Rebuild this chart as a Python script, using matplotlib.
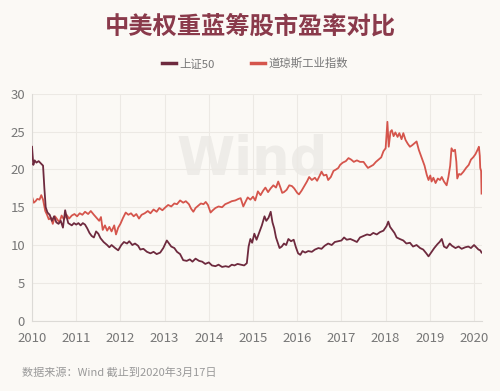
import matplotlib
matplotlib.use("Agg")
import matplotlib.pyplot as plt

plt.rcParams['font.family'] = ['Noto Sans CJK SC', 'DejaVu Sans']

# ---------- 数据（按年份小数表示日期） ----------
sz50_dates = [
    2010.00, 2010.03, 2010.06, 2010.10, 2010.15, 2010.20, 2010.25, 2010.28, 2010.31, 2010.35,
    2010.40, 2010.45, 2010.50, 2010.55, 2010.60, 2010.65, 2010.70, 2010.75, 2010.78, 2010.82,
    2010.90, 2010.95, 2011.00, 2011.05, 2011.10, 2011.15, 2011.20, 2011.25, 2011.30, 2011.35,
    2011.40, 2011.45, 2011.50, 2011.55, 2011.62, 2011.70, 2011.75, 2011.80, 2011.88, 2011.95,
    2012.02, 2012.08, 2012.15, 2012.20, 2012.27, 2012.33, 2012.40, 2012.45, 2012.52, 2012.60,
    2012.68, 2012.75, 2012.82, 2012.90, 2012.97, 2013.05, 2013.10, 2013.15, 2013.22, 2013.28,
    2013.35, 2013.42, 2013.50, 2013.57, 2013.63, 2013.70, 2013.78, 2013.85, 2013.92, 2014.00,
    2014.07, 2014.15, 2014.22, 2014.30, 2014.38, 2014.45, 2014.52, 2014.58, 2014.65, 2014.72,
    2014.80, 2014.86, 2014.90, 2014.94, 2014.98, 2015.03, 2015.08, 2015.15, 2015.20, 2015.26,
    2015.30, 2015.35, 2015.40, 2015.44, 2015.48, 2015.52, 2015.56, 2015.60, 2015.65, 2015.70,
    2015.75, 2015.80, 2015.86, 2015.92, 2015.97, 2016.02, 2016.07, 2016.12, 2016.18, 2016.25,
    2016.33, 2016.40, 2016.48, 2016.55, 2016.62, 2016.70, 2016.78, 2016.85, 2016.92, 2017.00,
    2017.06, 2017.12, 2017.20, 2017.28, 2017.35, 2017.42, 2017.50, 2017.58, 2017.65, 2017.72,
    2017.80, 2017.87, 2017.95, 2018.02, 2018.06, 2018.10, 2018.15, 2018.20, 2018.25, 2018.32,
    2018.40, 2018.47, 2018.55, 2018.62, 2018.70, 2018.78, 2018.85, 2018.92, 2018.97, 2019.03,
    2019.10, 2019.17, 2019.22, 2019.27, 2019.32, 2019.38, 2019.45, 2019.50, 2019.58, 2019.65,
    2019.72, 2019.80, 2019.87, 2019.93, 2020.00, 2020.05, 2020.10, 2020.14, 2020.17,
]
sz50_pe = [
    23.0, 20.6, 21.2, 20.9, 21.1, 20.8, 20.5, 17.5, 15.0, 14.3,
    14.0, 13.2, 13.8, 13.0, 12.8, 13.2, 12.3, 14.6, 13.8, 12.9,
    12.6, 12.9, 12.7, 12.9, 12.6, 12.9, 12.7, 12.2, 11.6, 11.2,
    11.0, 11.8, 11.5, 10.9, 10.4, 10.0, 9.7, 10.0, 9.6, 9.3,
    10.0, 10.4, 10.2, 10.5, 10.0, 10.2, 9.9, 9.4, 9.5, 9.1,
    8.9, 9.1, 8.8, 9.0, 9.6, 10.6, 10.2, 9.8, 9.6, 9.1,
    8.8, 8.0, 7.9, 8.1, 7.8, 8.2, 7.9, 7.8, 7.5, 7.7,
    7.3, 7.2, 7.4, 7.1, 7.2, 7.1, 7.4, 7.3, 7.5, 7.4,
    7.3, 7.6, 9.8, 10.8, 10.3, 11.5, 10.7, 11.8, 12.6, 13.8,
    13.2, 13.6, 14.4, 13.0, 12.2, 11.0, 10.3, 9.6, 9.8, 10.2,
    10.0, 10.8, 10.5, 10.7, 9.7, 8.9, 8.7, 9.2, 9.0, 9.2,
    9.1, 9.4, 9.6, 9.5, 9.9, 10.2, 10.0, 10.4, 10.5, 10.6,
    11.0, 10.7, 10.8, 10.6, 10.4, 11.0, 11.2, 11.4, 11.3, 11.6,
    11.4, 11.7, 11.9, 12.5, 13.1, 12.4, 12.0, 11.6, 11.0, 10.8,
    10.6, 10.2, 10.3, 9.8, 10.0, 9.6, 9.4, 8.9, 8.5, 9.0,
    9.6, 10.1, 10.4, 10.8, 9.8, 9.6, 10.2, 9.9, 9.6, 9.8,
    9.5, 9.7, 9.8, 9.6, 10.0, 9.7, 9.4, 9.3, 9.0,
]

dow_dates = [
    2010.00, 2010.04, 2010.08, 2010.12, 2010.17, 2010.21, 2010.25, 2010.30, 2010.34, 2010.38,
    2010.43, 2010.47, 2010.52, 2010.57, 2010.62, 2010.67, 2010.72, 2010.78, 2010.84, 2010.90,
    2010.96, 2011.02, 2011.08, 2011.14, 2011.20, 2011.27, 2011.33, 2011.40, 2011.46, 2011.52,
    2011.56, 2011.60, 2011.65, 2011.70, 2011.75, 2011.80, 2011.86, 2011.90, 2011.95, 2012.00,
    2012.06, 2012.12, 2012.18, 2012.24, 2012.30, 2012.36, 2012.42, 2012.48, 2012.55, 2012.62,
    2012.68, 2012.75, 2012.82, 2012.88, 2012.95, 2013.02, 2013.08, 2013.15, 2013.22, 2013.28,
    2013.35, 2013.42, 2013.48, 2013.55, 2013.60, 2013.65, 2013.70, 2013.76, 2013.82, 2013.88,
    2013.93, 2013.98, 2014.04, 2014.09, 2014.15, 2014.22, 2014.30, 2014.37, 2014.45, 2014.52,
    2014.60, 2014.67, 2014.72, 2014.78, 2014.82, 2014.88, 2014.94, 2015.00, 2015.05, 2015.11,
    2015.17, 2015.23, 2015.28, 2015.34, 2015.40, 2015.46, 2015.52, 2015.57, 2015.62, 2015.66,
    2015.70, 2015.76, 2015.82, 2015.88, 2015.93, 2016.00, 2016.04, 2016.10, 2016.16, 2016.22,
    2016.27, 2016.33, 2016.40, 2016.45, 2016.51, 2016.55, 2016.60, 2016.66, 2016.70, 2016.76,
    2016.82, 2016.88, 2016.93, 2016.97, 2017.03, 2017.10, 2017.16, 2017.22, 2017.28, 2017.35,
    2017.42, 2017.50, 2017.56, 2017.60, 2017.66, 2017.72, 2017.78, 2017.84, 2017.90, 2017.95,
    2018.00, 2018.04, 2018.07, 2018.11, 2018.14, 2018.18, 2018.22, 2018.27, 2018.31, 2018.36,
    2018.40, 2018.45, 2018.50, 2018.55, 2018.60, 2018.66, 2018.70, 2018.75, 2018.80, 2018.85,
    2018.88, 2018.93, 2018.97, 2019.01, 2019.04, 2019.08, 2019.13, 2019.18, 2019.23, 2019.27,
    2019.32, 2019.38, 2019.42, 2019.46, 2019.49, 2019.53, 2019.57, 2019.60, 2019.62, 2019.66,
    2019.70, 2019.76, 2019.82, 2019.88, 2019.93, 2019.98, 2020.03, 2020.08, 2020.11, 2020.13,
    2020.14, 2020.16, 2020.17,
]
dow_pe = [
    16.4, 15.6, 15.8, 16.1, 16.0, 16.6, 16.0, 14.5, 14.0, 13.4,
    13.6, 12.8, 13.8, 13.4, 13.0, 13.9, 13.4, 14.0, 13.5, 13.9,
    14.1, 13.8, 14.2, 14.0, 14.4, 14.1, 14.5, 14.0, 13.6, 13.2,
    13.7, 12.0, 12.6, 11.9, 12.4, 11.8, 12.6, 11.4, 12.3, 12.8,
    13.6, 14.3, 14.0, 14.2, 13.8, 14.1, 13.5, 14.0, 14.2, 14.5,
    14.2, 14.7, 14.4, 14.9, 14.6, 15.0, 15.3, 15.1, 15.5, 15.4,
    15.9, 15.6, 15.8, 15.4, 14.8, 14.4, 14.9, 15.2, 15.5, 15.4,
    15.7, 15.3, 14.3, 14.6, 14.9, 15.1, 15.0, 15.4, 15.6, 15.8,
    15.9, 16.1, 16.2, 15.1, 15.6, 16.3, 16.0, 16.4, 15.9, 17.1,
    16.6, 17.2, 17.6, 17.0, 17.5, 17.9, 17.6, 18.4, 17.6, 16.9,
    17.0, 17.3, 17.9, 17.8, 17.5, 16.9, 16.7, 17.2, 17.8, 18.4,
    19.0, 18.6, 18.9, 18.5, 19.2, 19.7, 19.2, 19.3, 18.6, 19.0,
    19.8, 20.0, 20.2, 20.6, 20.9, 21.1, 21.5, 21.3, 21.0, 21.2,
    21.0, 21.0, 20.5, 20.2, 20.4, 20.6, 21.0, 21.3, 21.6, 22.4,
    22.8, 26.3, 23.0, 25.0, 25.2, 24.4, 24.9, 24.3, 24.8, 24.0,
    24.8, 23.9, 23.4, 23.0, 23.2, 23.5, 23.7, 22.6, 21.8, 21.0,
    20.5, 19.3, 18.6, 19.2, 18.4, 18.9, 18.2, 18.8, 18.6, 19.0,
    18.4, 17.9, 19.0, 20.5, 22.8, 22.4, 22.6, 21.0, 18.8, 19.4,
    19.3, 19.7, 20.2, 20.6, 21.3, 21.6, 22.0, 22.6, 23.0, 21.8,
    20.2, 19.8, 16.8,
]

years = list(range(2010, 2021))
yticks = [0, 5, 10, 15, 20, 25, 30]

# ---------- 画图 ----------
bg = '#fbf9f5'
fig = plt.figure(figsize=(5, 3.91), dpi=100, facecolor=bg)
ax = fig.add_axes([0.064, 0.18, 0.9, 0.58], facecolor=bg)

# 水印
ax.text(0.489, 0.643, 'Wind', transform=ax.transAxes, fontsize=38, fontweight='bold',
        color='#eeece8', ha='center', va='baseline', family='DejaVu Sans', zorder=0)

ax.plot(sz50_dates, sz50_pe, color='#6e2a3e', lw=1.3, label='上证50', zorder=3)
ax.plot(dow_dates, dow_pe, color='#d5554c', lw=1.3, label='道琼斯工业指数', zorder=2)

ax.set_xlim(2010, 2020.18)
ax.set_ylim(0, 30)
ax.set_xticks(years)
ax.set_xticklabels([str(y) for y in years])
ax.set_yticks(yticks)
ax.grid(True, color='#ece9e4', lw=0.8)
ax.set_axisbelow(True)
for s in ['top', 'right']:
    ax.spines[s].set_visible(False)
for s in ['left', 'bottom']:
    ax.spines[s].set_color('#dcdad6')
ax.tick_params(length=0, colors='#777777', labelsize=9.5)
ax.tick_params(axis='x', pad=8)
ax.tick_params(axis='y', pad=5)

fig.text(0.5, 1 - 27 / 391, '中美权重蓝筹股市盈率对比', ha='center', va='center',
         fontsize=17.5, fontweight='bold', color='#8a3a4b')
leg = fig.legend(loc='center', bbox_to_anchor=(0.51, 1 - 63 / 391), ncol=2, frameon=False,
                 handlelength=1.2, handletextpad=0.3, columnspacing=3.2, fontsize=8.2,
                 labelcolor='#777777')
for h in leg.get_lines():
    h.set_linewidth(2.5)
fig.text(0.044, 1 - 372 / 391, '数据来源：Wind 截止到2020年3月17日', ha='left', va='center',
         fontsize=8, color='#999999')

fig.savefig('out.png', dpi=100, facecolor=bg)
